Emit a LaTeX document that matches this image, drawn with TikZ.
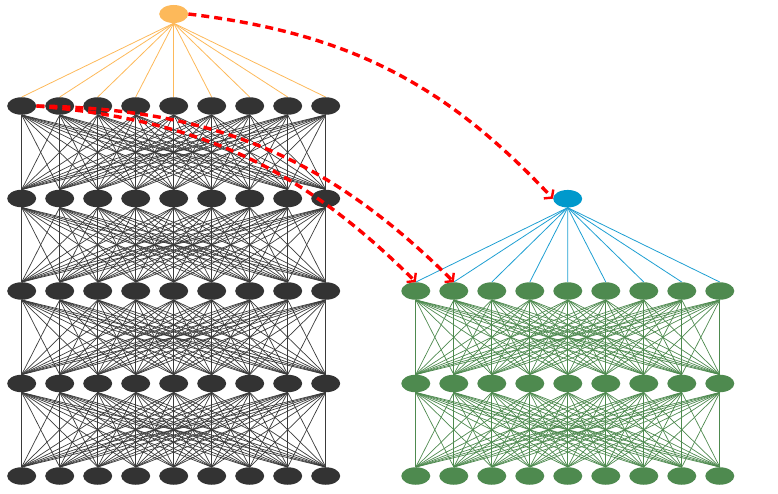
\documentclass[tikz,border=0pt]{standalone}
\usetikzlibrary{shapes.geometric,arrows.meta,backgrounds}
\definecolor{darknode}{HTML}{333333}
\definecolor{darkedge}{HTML}{3A3A3A}
\definecolor{greennode}{HTML}{4E8A4F}
\definecolor{orangenode}{HTML}{FDB95A}
\definecolor{bluenode}{HTML}{0099CC}
\definecolor{blueedge}{HTML}{1E9FD2}
\definecolor{redarrow}{HTML}{FF0000}
\tikzset{
  neuron/.style={ellipse,inner sep=0pt,minimum width=29pt,minimum height=17.5pt,draw=none},
  darkn/.style={neuron,fill=darknode},
  greenn/.style={neuron,fill=greennode},
  orangen/.style={neuron,fill=orangenode,minimum height=18pt},
  bluen/.style={neuron,fill=bluenode},
  darkline/.style={draw=darkedge,line width=0.7pt},
  greenline/.style={draw=greennode,line width=0.7pt},
  orangeline/.style={draw=orangenode,line width=0.8pt},
  blueline/.style={draw=blueedge,line width=0.8pt},
  skiparrow/.style={draw=redarrow,line width=3.4pt,dash pattern=on 8pt off 5pt,
    -{Straight Barb[length=5pt,width=13pt,line width=2.4pt]}}
}
\begin{document}
\begin{tikzpicture}[x=1pt,y=-1pt]
\useasboundingbox (0,0) rectangle (778,494);
% left network
\foreach \i/\yy in {1/106,2/198.5,3/291,4/383.5,5/476}{
  \foreach \j in {1,...,9}{
    \node[darkn] (L\i-\j) at ({21.7+38*(\j-1)},\yy) {};
  }
}
% right network
\foreach \i/\yy in {1/291,2/383.5,3/476}{
  \foreach \j in {1,...,9}{
    \node[greenn] (R\i-\j) at ({415.8+38*(\j-1)},\yy) {};
  }
}
\node[orangen] (o) at (173.7,14) {};
\node[bluen] (b) at (567.7,198.7) {};
\begin{scope}[on background layer]
  \foreach \i [evaluate=\i as \k using int(\i+1)] in {1,...,4}{
    \foreach \j in {1,...,9}{
      \foreach \m in {1,...,9}{
        \draw[darkline] (L\i-\j.south) -- (L\k-\m.north);
      }
    }
  }
  \foreach \i [evaluate=\i as \k using int(\i+1)] in {1,2}{
    \foreach \j in {1,...,9}{
      \foreach \m in {1,...,9}{
        \draw[greenline] (R\i-\j.south) -- (R\k-\m.north);
      }
    }
  }
  \foreach \j in {1,...,9}{
    \draw[orangeline] (o.south) -- (L1-\j.north);
    \draw[blueline] (b.south) -- (R1-\j.north);
  }
\end{scope}
% skip arrows
\draw[skiparrow] (o.east) to[bend left=20] (b.west);
\draw[skiparrow] (L1-1.east) to[bend left=20] (R1-1.north);
\draw[skiparrow] (L1-1.east) to[bend left=22] (R1-2.north);
\end{tikzpicture}
\end{document}
